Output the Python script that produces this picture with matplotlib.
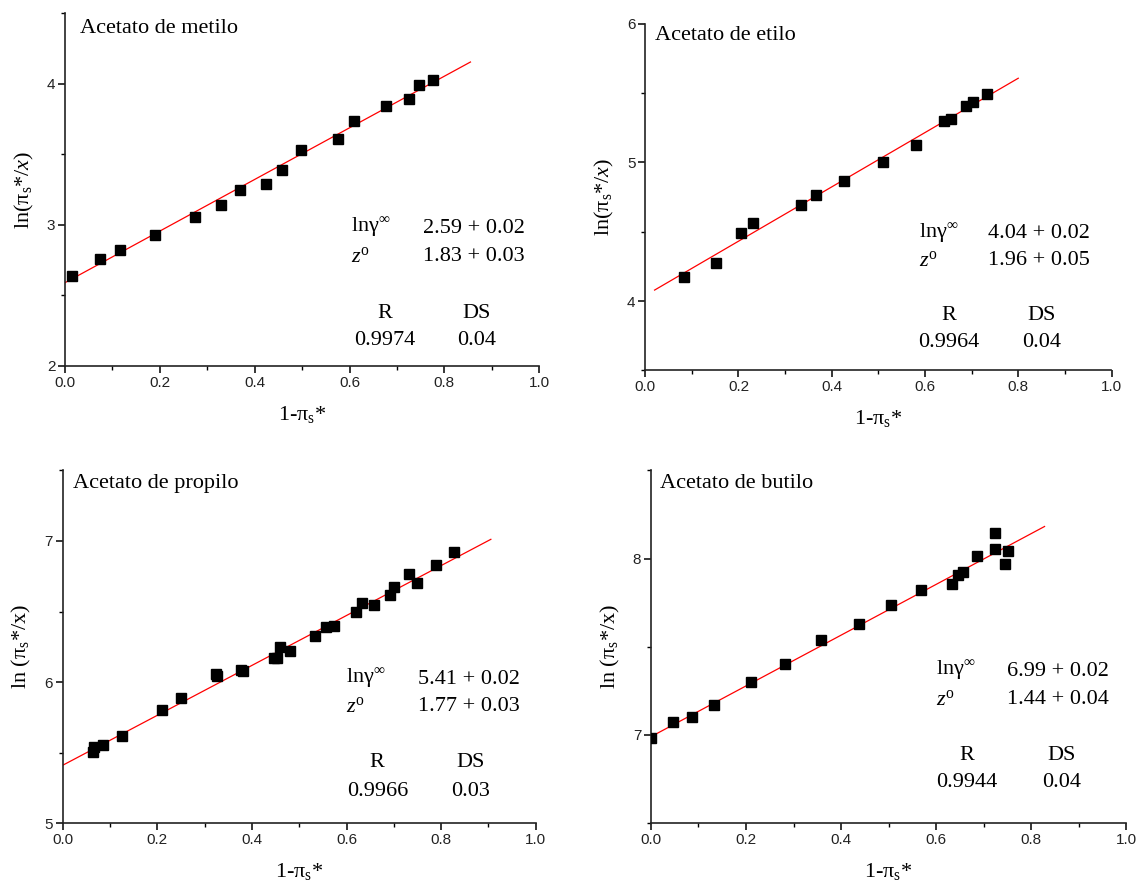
import matplotlib
matplotlib.use('Agg')
import matplotlib.pyplot as plt
from matplotlib.ticker import MultipleLocator, FormatStrFormatter

# datos: 1-pi*  vs  ln(pi*/x)
METILO_X = [0.015, 0.073, 0.117, 0.189, 0.274, 0.328, 0.368, 0.423, 0.458, 0.498,
            0.575, 0.610, 0.677, 0.725, 0.746, 0.775]
METILO_Y = [2.640, 2.758, 2.824, 2.928, 3.055, 3.140, 3.244, 3.290, 3.386, 3.528,
            3.606, 3.736, 3.844, 3.894, 3.990, 4.024]

ETILO_X = [0.084, 0.152, 0.206, 0.232, 0.335, 0.366, 0.426, 0.511, 0.580, 0.641,
           0.656, 0.688, 0.702, 0.733]
ETILO_Y = [4.174, 4.275, 4.492, 4.565, 4.692, 4.767, 4.869, 5.000, 5.123, 5.297,
           5.314, 5.408, 5.440, 5.493]

PROPILO_X = [0.065, 0.066, 0.086, 0.126, 0.210, 0.251, 0.324, 0.327, 0.377, 0.382,
             0.446, 0.453, 0.460, 0.480, 0.534, 0.557, 0.574, 0.621, 0.632, 0.659,
             0.692, 0.700, 0.731, 0.749, 0.788, 0.827]
PROPILO_Y = [5.507, 5.540, 5.552, 5.616, 5.801, 5.884, 6.054, 6.043, 6.083, 6.076,
             6.168, 6.171, 6.251, 6.223, 6.329, 6.393, 6.396, 6.500, 6.559, 6.545,
             6.616, 6.671, 6.768, 6.699, 6.827, 6.922]

BUTILO_X = [0.001, 0.046, 0.086, 0.133, 0.210, 0.281, 0.358, 0.437, 0.505, 0.569,
            0.634, 0.645, 0.657, 0.685, 0.724, 0.724, 0.745, 0.751]
BUTILO_Y = [6.985, 7.075, 7.104, 7.168, 7.298, 7.404, 7.536, 7.630, 7.738, 7.823,
            7.855, 7.906, 7.925, 8.017, 8.055, 8.147, 7.972, 8.043]

NAMES = ['Acetato de metilo', 'Acetato de etilo', 'Acetato de propilo', 'Acetato de butilo']
LN_GAMMA = ['2.59 + 0.02', '4.04 + 0.02', '5.41 + 0.02', '6.99 + 0.02']
Z_ZERO = ['1.83 + 0.03', '1.96 + 0.05', '1.77 + 0.03', '1.44 + 0.04']
R_VALUES = ['0.9974', '0.9964', '0.9966', '0.9944']
DS_VALUES = ['0.04', '0.04', '0.03', '0.04']

# recta ajustada: ln(pi*/x) = lngamma + z * (1-pi*)
INTERCEPTS = [2.59, 4.04, 5.41, 6.99]
SLOPES = [1.83, 1.96, 1.77, 1.44]
LINE_FROM = [0.0, 0.02, 0.0, 0.0]
LINE_TO = [0.855, 0.80, 0.905, 0.828]

Y_LIMITS = [(2, 4.5), (3.5, 6), (5, 7.5), (6.5, 8.5)]

plt.rcParams['font.family'] = ['Liberation Serif', 'DejaVu Serif']
plt.rcParams['mathtext.fontset'] = 'custom'
plt.rcParams['mathtext.rm'] = 'Liberation Serif'
plt.rcParams['mathtext.it'] = 'Liberation Serif:italic'
plt.rcParams['mathtext.bf'] = 'Liberation Serif:bold'

TEXT_SIZE = 16
TICK_FONT = {'family': 'Liberation Sans', 'size': 11}

# posicion de los ejes en la figura (left, bottom, width, height)
AX_POS = [(0.057, 0.587, 0.416, 0.398),
          (0.566, 0.582, 0.409, 0.391),
          (0.055, 0.071, 0.415, 0.398),
          (0.571, 0.071, 0.417, 0.398)]

# posicion de los textos en fraccion de ejes
# (x etiqueta, x valor, y fila1, y fila2, x R, x DS, y R, y valores)
TEXT_POS = [(0.604, 0.754, 0.390, 0.309, 0.675, 0.868, 0.150, 0.073),
            (0.587, 0.736, 0.394, 0.317, 0.651, 0.850, 0.157, 0.080),
            (0.599, 0.751, 0.408, 0.330, 0.665, 0.862, 0.171, 0.091),
            (0.599, 0.750, 0.431, 0.350, 0.665, 0.863, 0.192, 0.114)]

TITLE_POS = [(0.031, 0.957), (0.020, 0.968), (0.022, 0.962), (0.019, 0.962)]


def make_panel(ax, i, xs, ys, ylabel):
    """ Un panel: puntos, recta ajustada y textos """
    ax.plot(xs, ys, 's', color='black', markersize=7, zorder=3)

    x0, x1 = LINE_FROM[i], LINE_TO[i]
    ax.plot([x0, x1], [INTERCEPTS[i] + SLOPES[i] * x0, INTERCEPTS[i] + SLOPES[i] * x1],
            '-', color='red', linewidth=0.9, zorder=2)

    ax.set_xlim(0, 1.0)
    ax.set_ylim(*Y_LIMITS[i])

    # solo ejes izquierdo e inferior, ticks hacia fuera
    ax.spines['top'].set_visible(False)
    ax.spines['right'].set_visible(False)
    for side in ('left', 'bottom'):
        ax.spines[side].set_linewidth(1.2)
        ax.spines[side].set_color('#222222')
    ax.xaxis.set_major_locator(MultipleLocator(0.2))
    ax.xaxis.set_minor_locator(MultipleLocator(0.1))
    ax.yaxis.set_major_locator(MultipleLocator(1))
    ax.yaxis.set_minor_locator(MultipleLocator(0.5))
    ax.xaxis.set_major_formatter(FormatStrFormatter('%.1f'))
    ax.yaxis.set_major_formatter(FormatStrFormatter('%d'))
    ax.tick_params(which='major', direction='out', length=5, width=1.1, pad=2,
                   labelcolor='#222222')
    ax.tick_params(which='minor', direction='out', length=3, width=1.0)
    for lab in ax.get_xticklabels() + ax.get_yticklabels():
        lab.set_fontfamily(TICK_FONT['family'])
        lab.set_fontsize(TICK_FONT['size'])

    ax.set_xlabel('1-$\\mathrm{\u03c0_s}$*', fontsize=TEXT_SIZE, labelpad=10)
    ax.set_ylabel(ylabel, fontsize=TEXT_SIZE, labelpad=8)

    tx, ty = TITLE_POS[i]
    ax.text(tx, ty, NAMES[i], transform=ax.transAxes, fontsize=TEXT_SIZE,
            ha='left', va='center')

    lx, vx, y1, y2, rx, dx, ry, vy = TEXT_POS[i]
    kw = dict(transform=ax.transAxes, fontsize=TEXT_SIZE, va='center')
    ax.text(lx, y1, 'ln$\\mathrm{\u03b3^{\u221e}}$', ha='left', **kw)
    ax.text(vx, y1, LN_GAMMA[i], ha='left', **kw)
    ax.text(lx, y2, '$z^{\\mathrm{o}}$', ha='left', **kw)
    ax.text(vx, y2, Z_ZERO[i], ha='left', **kw)
    ax.text(rx, ry, 'R', ha='center', **kw)
    ax.text(dx, ry, 'DS', ha='center', **kw)
    ax.text(rx, vy, R_VALUES[i], ha='center', **kw)
    ax.text(dx, vy, DS_VALUES[i], ha='center', **kw)


fig = plt.figure(figsize=(11.4, 8.86), dpi=100, facecolor='w')

data = [(METILO_X, METILO_Y), (ETILO_X, ETILO_Y), (PROPILO_X, PROPILO_Y), (BUTILO_X, BUTILO_Y)]
ylabels = ['ln($\\mathrm{\u03c0_s}$*/$x$)', 'ln($\\mathrm{\u03c0_s}$*/$x$)',
           'ln ($\\mathrm{\u03c0_s}$*/x)', 'ln ($\\mathrm{\u03c0_s}$*/x)']

for i, (xs, ys) in enumerate(data):
    ax = fig.add_axes(AX_POS[i])
    make_panel(ax, i, xs, ys, ylabels[i])

fig.savefig('out.png', dpi=100, facecolor='w')
plt.close()
